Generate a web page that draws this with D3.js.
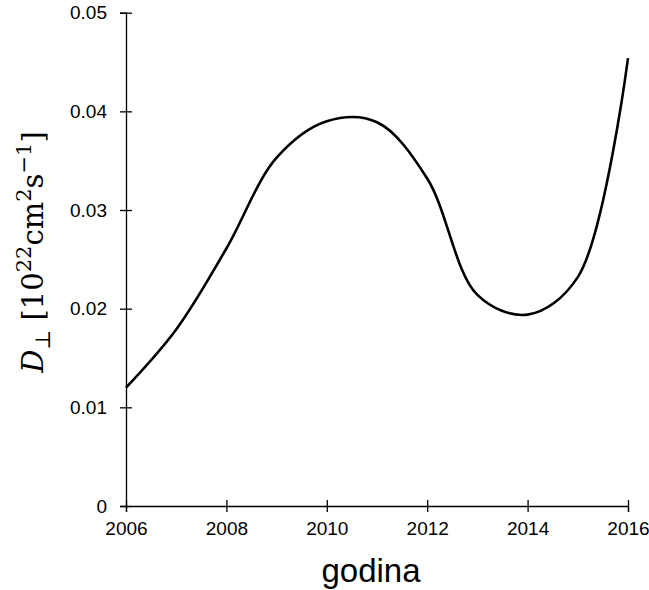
<!DOCTYPE html>
<html><head><meta charset="utf-8">
<script src="https://cdn.jsdelivr.net/npm/d3@7"></script>
<style>body{margin:0;background:#fff}</style>
</head><body>
<svg id="c" width="649" height="590"></svg>
<script>
const years = [2006, 2007, 2008, 2009, 2010, 2011, 2012, 2013, 2014, 2015, 2016];
const values = [0.0120, 0.0179, 0.0261, 0.0353, 0.0390, 0.0389, 0.0332, 0.0214, 0.0194, 0.0232, 0.0454];
const xTicks = [2006, 2008, 2010, 2012, 2014, 2016];
const yTicks = [0, 0.01, 0.02, 0.03, 0.04, 0.05];

const svg = d3.select("#c");
const x = d3.scaleLinear().domain([2006, 2016]).range([126, 628]);
const y = d3.scaleLinear().domain([0, 0.05]).range([506, 12.7]);

const xa = svg.append("g").attr("transform", `translate(0,${y(0)})`)
  .call(d3.axisBottom(x).tickValues(xTicks).tickFormat(d3.format("d")).tickSizeOuter(0).tickSize(6).tickPadding(10));
xa.selectAll(".tick line").attr("y1", -6).attr("y2", 6);
const ya = svg.append("g").attr("transform", `translate(${x(2006)},0)`)
  .call(d3.axisLeft(y).tickValues(yTicks).tickFormat(d => d === 0 ? "0" : d3.format(".2f")(d)).tickSizeOuter(0).tickSize(6).tickPadding(13));
ya.selectAll(".tick line").attr("x1", -6).attr("x2", 6);
svg.selectAll(".domain, .tick line").attr("stroke", "#000").attr("stroke-width", 1.3);
svg.selectAll("g").attr("font-size", null).attr("font-family", null);
svg.selectAll(".tick text").style("font-family", "Liberation Sans, Arial, sans-serif").style("font-size", "19px").attr("fill", "#000");

const line = d3.line().x((d, i) => x(years[i])).y(d => y(d)).curve(d3.curveCatmullRom.alpha(0.5));
svg.append("path").datum(values).attr("d", line).attr("fill", "none").attr("stroke", "#000").attr("stroke-width", 2.6);

svg.append("text").attr("x", 371).attr("y", 582).attr("text-anchor", "middle")
  .style("font-family", "Liberation Sans, Arial, sans-serif").style("font-size", "33px").text("godina");

const yl = svg.append("text").attr("transform", "translate(43,252) rotate(-90)").attr("text-anchor", "middle")
  .style("font-family", "DejaVu Serif, Liberation Serif, serif").style("font-size", "29px").attr("fill", "#000");
yl.append("tspan").style("font-style", "italic").text("D");
yl.append("tspan").style("font-size", "21px").attr("dy", 7).text("⊥");
yl.append("tspan").attr("dy", -7).text(" [10");
yl.append("tspan").style("font-size", "21px").attr("dy", -12).text("22");
yl.append("tspan").attr("dy", 12).text("cm");
yl.append("tspan").style("font-size", "21px").attr("dy", -12).text("2");
yl.append("tspan").attr("dy", 12).text("s");
yl.append("tspan").style("font-size", "21px").attr("dy", -12).text("−1");
yl.append("tspan").attr("dy", 12).text("]");
</script>
</body></html>
